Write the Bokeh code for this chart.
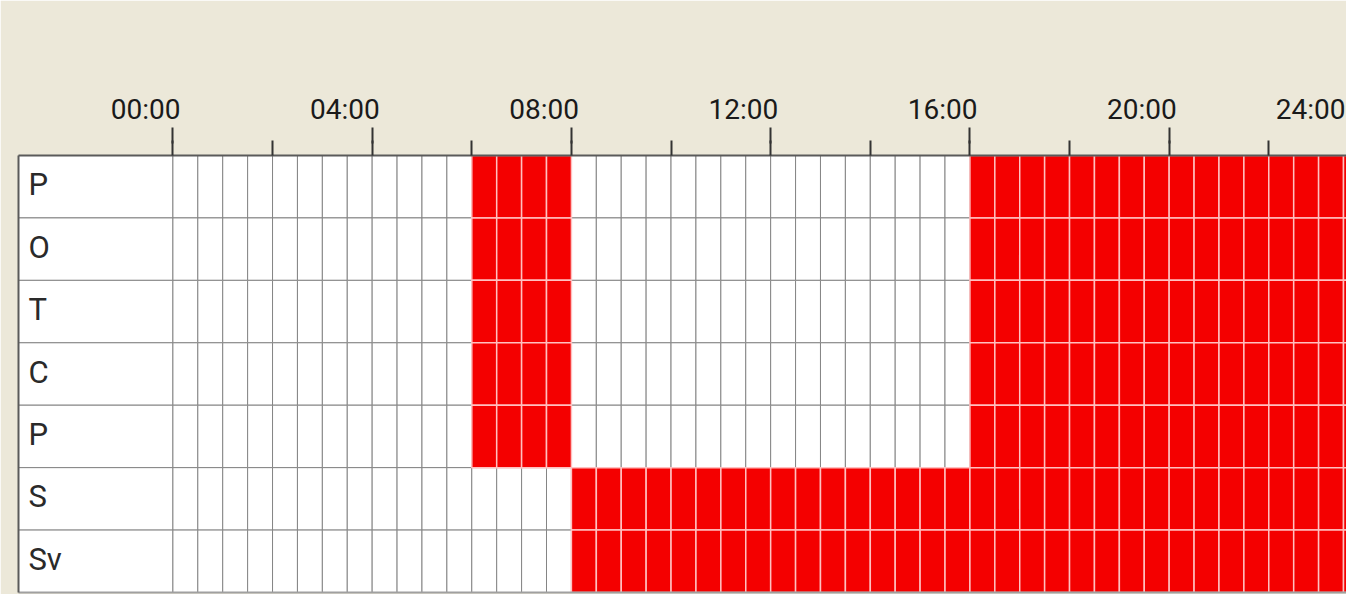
from bokeh.plotting import figure
from bokeh.models import Range1d, FixedTicker, LinearAxis, ColumnDataSource
from bokeh.core.properties import value
from bokeh.embed import file_html
from bokeh.resources import INLINE

# ---- data ----
days = ["P", "O", "T", "C", "P", "S", "Sv"]
hour_ticks = [0, 4, 8, 12, 16, 20, 24]
hour_labels = ["00:00", "04:00", "08:00", "12:00", "16:00", "20:00", "24:00"]
minor_hours = [2, 6, 10, 14, 18, 22]
slot_hours = 0.5
slots_per_day = 48
# active (red) time blocks: row index, start hour, end hour
block_row = [0, 0, 1, 1, 2, 2, 3, 3, 4, 4, 5, 6]
block_start = [6, 16, 6, 16, 6, 16, 6, 16, 6, 16, 8, 8]
block_end = [8, 24, 8, 24, 8, 24, 8, 24, 8, 24, 24, 24]

FONT = "Roboto"
BEIGE = "#ece8d9"
RED = "#f40000"
X_START, X_END = -3.10, 23.56

# ---- build cells ----
off = dict(left=[], right=[], top=[], bottom=[])
on = dict(left=[], right=[], top=[], bottom=[])
for r in range(len(days)):
    for k in range(slots_per_day):
        a = k * slot_hours
        b = a + slot_hours
        active = any(block_row[i] == r and block_start[i] <= a < block_end[i]
                     for i in range(len(block_row)))
        d = on if active else off
        d["left"].append(a); d["right"].append(b)
        d["top"].append(r); d["bottom"].append(r + 1)

p = figure(width=1346, height=594,
           x_range=Range1d(X_START, X_END), y_range=Range1d(len(days), 0),
           x_axis_location="above", y_axis_location="left",
           output_backend="svg", toolbar_location=None,
           min_border_left=18, min_border_right=0,
           min_border_top=155, min_border_bottom=2,
           background_fill_color="white", border_fill_color=BEIGE,
           outline_line_color=None)
p.xgrid.visible = False
p.ygrid.visible = False

# label column
p.quad(left=[-4] * len(days), right=[0] * len(days),
       top=list(range(len(days))), bottom=[r + 1 for r in range(len(days))],
       fill_color="white", line_color="#858585", line_width=1)
# inactive cells
p.quad(source=ColumnDataSource(off), left="left", right="right", top="top", bottom="bottom",
       fill_color="white", line_color="#858585", line_width=1)
# active cells
p.quad(source=ColumnDataSource(on), left="left", right="right", top="top", bottom="bottom",
       fill_color=RED, line_color="#ffc0c0", line_width=1.5)

# day labels
p.text(x=[-2.9] * len(days), y=[r + 0.47 for r in range(len(days))], text=days,
       text_font=value(FONT), text_font_size="31px", text_color="#2a2a2a",
       text_baseline="middle", text_align="left")

# inner top axis: the axis line and the short part of every 2-hour tick (no labels)
ax = p.xaxis[0]
ax.ticker = FixedTicker(ticks=[], minor_ticks=sorted(hour_ticks + minor_hours))
ax.major_label_standoff = 0
ax.major_tick_out = 0
ax.major_tick_in = 0
ax.minor_tick_out = 15
ax.minor_tick_in = 0
ax.minor_tick_line_color = "#333333"
ax.minor_tick_line_width = 2
ax.axis_line_color = "#5a5a5a"
ax.axis_line_width = 2

# outer top axis: time labels set to the left of each tick as in the original,
# plus the upper part of the long 4-hour ticks
label_pos = [t - 0.55 for t in hour_ticks]
label_pos[-1] = min(label_pos[-1], X_END - 0.72)
lab_ax = LinearAxis(ticker=FixedTicker(ticks=label_pos, minor_ticks=hour_ticks),
                    major_label_overrides={pos: l for pos, l in zip(label_pos, hour_labels)},
                    major_label_text_font=FONT, major_label_text_font_size="28px",
                    major_label_text_color="#1a1a1a", major_label_standoff=2,
                    major_tick_out=0, major_tick_in=0,
                    minor_tick_out=13, minor_tick_in=3,
                    minor_tick_line_color="#333333", minor_tick_line_width=2,
                    axis_line_color=None)
p.add_layout(lab_ax, "above")

# left border
ya = p.yaxis[0]
ya.ticker = FixedTicker(ticks=[])
ya.major_tick_out = 0
ya.minor_tick_out = 0
ya.axis_line_color = "#5a5a5a"
ya.axis_line_width = 2

# bottom border
bx = LinearAxis(ticker=FixedTicker(ticks=[]),
                major_tick_out=0, minor_tick_out=0,
                axis_line_color="#a0a0a0", axis_line_width=2)
p.add_layout(bx, "below")

open("out.html", "w").write(file_html(p, INLINE))
